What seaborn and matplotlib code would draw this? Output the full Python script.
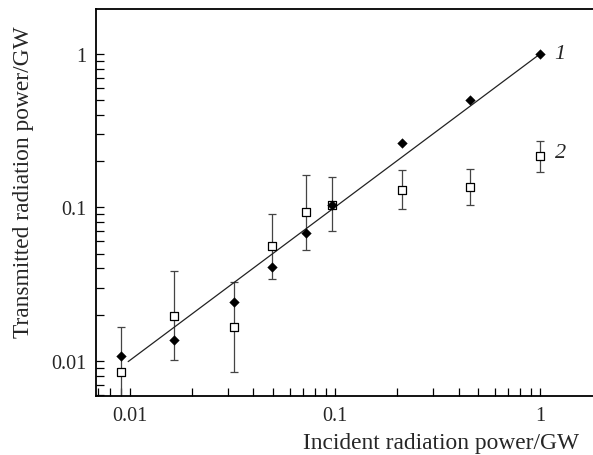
import numpy as np
import pandas as pd
import matplotlib
matplotlib.use("Agg")
import matplotlib.pyplot as plt
import seaborn as sns
from matplotlib.ticker import FuncFormatter, LogLocator, NullFormatter

# incident power (GW)
incident = [0.009, 0.0164, 0.0323, 0.049, 0.0725, 0.0965, 0.213, 0.457, 1.0]
# curve 1: filled diamonds
trans_1 = [0.0107, 0.0137, 0.0243, 0.0408, 0.0679, 0.104, 0.263, 0.501, 1.0]
# curve 2: open squares with error bars
trans_2 = [0.00844, 0.0197, 0.0167, 0.0564, 0.0931, 0.1038, 0.1294, 0.1355, 0.217]
err_lo_2 = [0.0043, 0.0101, 0.00844, 0.0342, 0.0529, 0.0706, 0.0978, 0.1037, 0.171]
err_hi_2 = [0.0167, 0.0385, 0.0326, 0.0908, 0.1637, 0.158, 0.176, 0.178, 0.272]
# straight fit line y = x
fit_x = [0.0098, 1.0]
fit_y = [0.0099, 1.0]

df1 = pd.DataFrame({"x": incident, "y": trans_1})
df2 = pd.DataFrame({"x": incident, "y": trans_2, "lo": err_lo_2, "hi": err_hi_2})
fit_df = pd.DataFrame({"x": fit_x, "y": fit_y})

sns.set_theme(style="ticks")
plt.rcParams["font.family"] = ["Liberation Serif", "DejaVu Serif"]

fig = plt.figure(figsize=(5.93, 4.56), dpi=100)
ax = fig.add_axes([96 / 593, 59 / 456, 1 - 96 / 593, 387 / 456])

ax.set_xscale("log")
ax.set_yscale("log")

# error bars for curve 2
yerr = np.array([df2["y"] - df2["lo"], df2["hi"] - df2["y"]])
ax.errorbar(df2["x"], df2["y"], yerr=yerr, fmt="none", ecolor="#444444",
            elinewidth=0.9, capsize=3.2, capthick=0.9, zorder=2)

sns.lineplot(data=fit_df, x="x", y="y", ax=ax, color="#222222", lw=0.9,
             estimator=None, sort=False, zorder=3)
sns.scatterplot(data=df2, x="x", y="y", ax=ax, marker="s", s=32,
                facecolor="white", edgecolor="black", linewidth=0.9, zorder=4)
sns.scatterplot(data=df1, x="x", y="y", ax=ax, marker="D", s=24,
                color="black", edgecolor="black", linewidth=0.3, zorder=5)

ax.set_xlim(0.00683, 1.81)
ax.set_ylim(0.00591, 1.96)

fmt = FuncFormatter(lambda v, p: f"{v:g}")
for axis in (ax.xaxis, ax.yaxis):
    axis.set_major_locator(LogLocator(base=10))
    axis.set_minor_locator(LogLocator(base=10, subs=np.arange(2, 10)))
    axis.set_major_formatter(fmt)
    axis.set_minor_formatter(NullFormatter())

ax.tick_params(which="both", direction="in", length=5.5, width=0.9,
               color="black", labelsize=14.5, pad=7, top=False, right=False)

for side in ["left", "bottom", "top"]:
    ax.spines[side].set_visible(True)
    ax.spines[side].set_linewidth(1.3)
    ax.spines[side].set_color("black")
ax.spines["right"].set_visible(False)

ax.set_xlabel("Incident radiation power/GW", fontsize=16.8, ha="right")
ax.xaxis.set_label_coords(0.972, -0.092)
ax.set_ylabel("Transmitted radiation power/GW", fontsize=16.8)
ax.yaxis.set_label_coords(-0.125, 0.555)

ax.annotate("1", xy=(incident[-1], trans_1[-1]), xytext=(10, 0),
            textcoords="offset points", fontsize=16, style="italic", va="center")
ax.annotate("2", xy=(incident[-1], trans_2[-1]), xytext=(11, 2),
            textcoords="offset points", fontsize=16, style="italic", va="center")

fig.savefig("out.png", dpi=100)
